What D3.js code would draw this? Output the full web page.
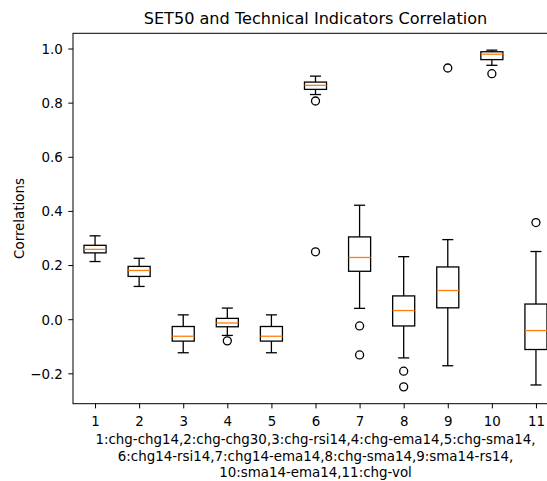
<!DOCTYPE html>
<html>
<head>
<meta charset="utf-8">
<script src="https://cdn.jsdelivr.net/npm/d3@7"></script>
<style>
  html, body { margin: 0; padding: 0; background: #fff; }
  svg { display: block; font-family: "DejaVu Sans", sans-serif; }
</style>
</head>
<body>
<svg id="chart" width="547" height="481"></svg>
<script>
const categories = [1, 2, 3, 4, 5, 6, 7, 8, 9, 10, 11];
const whiskerLow  = [0.213, 0.121, -0.124, -0.060, -0.124, 0.830, 0.040, -0.143, -0.172, 0.938, -0.243];
const q1          = [0.245, 0.158, -0.081, -0.028, -0.081, 0.849, 0.177, -0.025, 0.042, 0.959, -0.112];
const medians     = [0.258, 0.180, -0.063, -0.014, -0.063, 0.864, 0.228, 0.032, 0.106, 0.979, -0.042];
const q3          = [0.273, 0.195, -0.027, 0.003, -0.027, 0.876, 0.304, 0.086, 0.193, 0.988, 0.056];
const whiskerHigh = [0.308, 0.225, 0.016, 0.041, 0.016, 0.898, 0.421, 0.231, 0.294, 0.994, 0.250];
const outliers    = [[], [], [], [-0.080], [], [0.806, 0.249], [-0.025, -0.132], [-0.192, -0.250], [0.928], [0.907], [0.357]];
const yTicks = [-0.2, 0.0, 0.2, 0.4, 0.6, 0.8, 1.0];
const title = "SET50 and Technical Indicators Correlation";
const yLabel = "Correlations";
const xLabelLines = [
  "1:chg-chg14,2:chg-chg30,3:chg-rsi14,4:chg-ema14,5:chg-sma14,",
  "6:chg14-rsi14,7:chg14-ema14,8:chg-sma14,9:sma14-rs14,",
  "10:sma14-ema14,11:chg-vol"
];

const svg = d3.select("#chart");
const L = 73, R = 558, T = 33.3, B = 403.7;

const allVals = whiskerLow.concat(whiskerHigh, outliers.flat());
const vmin = d3.min(allVals), vmax = d3.max(allVals);
const pad = (vmax - vmin) * 0.05;
const y = d3.scaleLinear().domain([vmin - pad, vmax + pad]).range([B, T]);
const x = d3.scaleLinear().domain([0.5, 11.5]).range([L, R]);

const boxW = x(1.25) - x(1);  // half-width 0.25
const capW = boxW / 2;

const g = svg.append("g");
const lw = 1.3;

categories.forEach((c, i) => {
  const cx = x(c);
  g.append("line").attr("x1", cx).attr("x2", cx).attr("y1", y(q1[i])).attr("y2", y(whiskerLow[i]))
    .attr("stroke", "#000").attr("stroke-width", lw);
  g.append("line").attr("x1", cx).attr("x2", cx).attr("y1", y(q3[i])).attr("y2", y(whiskerHigh[i]))
    .attr("stroke", "#000").attr("stroke-width", lw);
  [whiskerLow[i], whiskerHigh[i]].forEach(v => {
    g.append("line").attr("x1", cx - capW).attr("x2", cx + capW).attr("y1", y(v)).attr("y2", y(v))
      .attr("stroke", "#000").attr("stroke-width", lw);
  });
  g.append("rect").attr("x", cx - boxW).attr("width", 2 * boxW)
    .attr("y", y(q3[i])).attr("height", y(q1[i]) - y(q3[i]))
    .attr("fill", "none").attr("stroke", "#000").attr("stroke-width", lw);
  g.append("line").attr("x1", cx - boxW).attr("x2", cx + boxW).attr("y1", y(medians[i])).attr("y2", y(medians[i]))
    .attr("stroke", "#ff7f0e").attr("stroke-width", lw);
  outliers[i].forEach(v => {
    g.append("circle").attr("cx", cx).attr("cy", y(v)).attr("r", 4)
      .attr("fill", "none").attr("stroke", "#000").attr("stroke-width", lw);
  });
});

// axes
const fs = 13.4;
const xAxis = d3.axisBottom(x).tickValues(categories).tickSize(4.7).tickPadding(8).tickFormat(d3.format("d"));
const gx = svg.append("g").attr("transform", `translate(0,${B})`).call(xAxis);
const yAxis = d3.axisLeft(y).tickValues(yTicks).tickSize(4.7).tickPadding(5.6)
  .tickFormat(d => (d < 0 ? "\u2212" : "") + Math.abs(d).toFixed(1));
const gy = svg.append("g").attr("transform", `translate(${L},0)`).call(yAxis);
[gx, gy].forEach(a => {
  a.select(".domain").remove();
  a.selectAll("text").attr("font-size", fs).attr("font-family", "DejaVu Sans").attr("fill", "#000");
  a.selectAll("line").attr("stroke", "#000").attr("stroke-width", 1);
});
gx.selectAll("text").attr("dy", "0.73em");
gy.selectAll("text").attr("dy", "0.36em");

// spines
svg.append("rect").attr("x", L).attr("y", T).attr("width", R - L).attr("height", B - T)
  .attr("fill", "none").attr("stroke", "#000").attr("stroke-width", 1);

// title
svg.append("text").attr("x", (L + R) / 2).attr("y", 24.3).attr("text-anchor", "middle")
  .attr("font-size", 16.1).attr("fill", "#000").text(title);

// y label
svg.append("text").attr("transform", `translate(23.5,${(T + B) / 2}) rotate(-90)`)
  .attr("text-anchor", "middle").attr("font-size", fs).attr("fill", "#000").text(yLabel);

// x label
xLabelLines.forEach((line, k) => {
  svg.append("text").attr("x", (L + R) / 2).attr("y", 444.3 + k * 16.3).attr("text-anchor", "middle")
    .attr("font-size", fs).attr("fill", "#000").text(line);
});
</script>
</body>
</html>
